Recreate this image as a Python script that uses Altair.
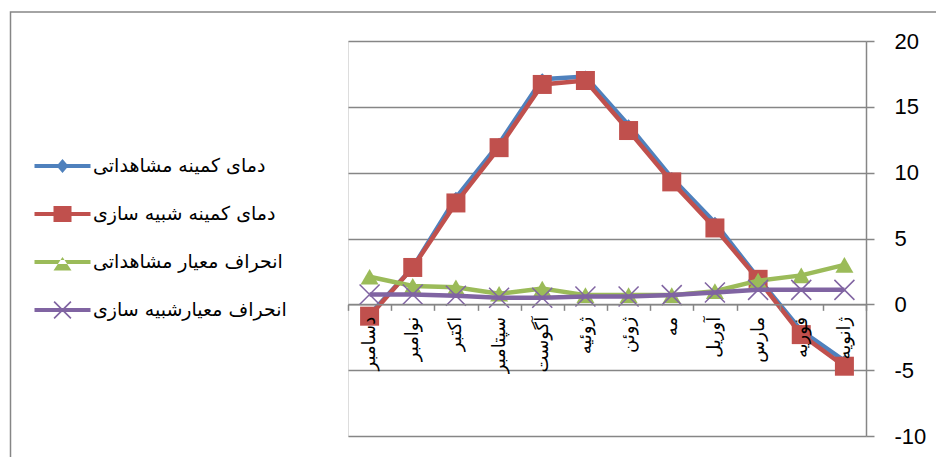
import altair as alt
import pandas as pd

# ---------------- data ----------------
months = ["دسامبر", "نوامبر", "اکتبر", "سپتامبر", "آگوست", "ژوئیه",
          "ژوئن", "مه", "آوریل", "مارس", "فوریه", "ژانویه"]
series_names = ["دمای کمینه  مشاهداتی", "دمای کمینه شبیه سازی",
                "انحراف معیار مشاهداتی", "انحراف معیارشبیه سازی"]
tmin_obs = [-0.8, 2.8, 8.1, 12.2, 17.1, 17.3, 13.6, 9.6, 6.2, 2.0, -2.0, -4.3]
tmin_sim = [-0.9, 2.8, 7.7, 11.9, 16.7, 17.0, 13.2, 9.3, 5.8, 1.9, -2.3, -4.7]
std_obs = [2.1, 1.4, 1.3, 0.8, 1.2, 0.7, 0.7, 0.7, 1.0, 1.8, 2.2, 3.0]
std_sim = [0.75, 0.75, 0.65, 0.5, 0.5, 0.6, 0.6, 0.7, 0.9, 1.1, 1.1, 1.1]
y_ticks = [-10, -5, 0, 5, 10, 15, 20]

# ---------------- styles ----------------
colors = ["#4F81BD", "#C0504D", "#9BBB59", "#8064A2"]
GRAY = "#868686"
W, H = 518, 395
Y_MIN, Y_MAX = -10, 20

X_PATH = "M-1,-1L1,1M-1,1L1,-1"
LINE = "M-1.4,-0.1H1.4V0.1H-1.4Z"
legend_paths = [
    LINE + " M0,-0.35L0.3,0L0,0.35L-0.3,0Z",
    LINE + " M-0.45,-0.4H0.45V0.4H-0.45Z",
    LINE + " M-0.45,0.42L0.45,0.42L0,-0.25Z",
    LINE + " M-0.39,-0.45L0.45,0.39L0.39,0.45L-0.45,-0.39Z"
           " M-0.45,0.39L0.39,-0.45L0.45,-0.39L-0.39,0.45Z",
]
marker_specs = [
    dict(shape="diamond", size=144, filled=True),
    dict(shape="square", size=361, filled=True),
    dict(shape="triangle-up", size=324, filled=True),
    dict(shape=X_PATH, size=400, filled=False, strokeWidth=1.5),
]

all_values = [tmin_obs, tmin_sim, std_obs, std_sim]
rows = []
for s, vals in zip(series_names, all_values):
    for m, v in zip(months, vals):
        rows.append({"month": m, "series": s, "value": v})
df = pd.DataFrame(rows)

color_scale = alt.Scale(domain=series_names, range=colors)

x_enc = alt.X(
    "month:N", sort=months,
    scale=alt.Scale(type="band", domain=months, paddingInner=0, paddingOuter=0),
    axis=alt.Axis(
        orient="bottom", offset=-H * (0 - Y_MIN) / (Y_MAX - Y_MIN),
        title=None, grid=False, domainColor=GRAY, domainWidth=1.5,
        tickColor=GRAY, tickWidth=1.5, tickSize=6, tickBand="extent",
        labelAngle=270, labelAlign="right", labelBaseline="middle",
        labelFont="DejaVu Sans", labelFontSize=18, labelColor="black",
        labelPadding=6, labelOverlap=False, labelLimit=200, zindex=1,
    ),
)
y_enc = alt.Y(
    "value:Q",
    scale=alt.Scale(domain=[Y_MIN, Y_MAX], nice=False, zero=False),
    axis=alt.Axis(
        orient="right", values=y_ticks, title=None,
        grid=True, gridColor=GRAY, gridWidth=1.5,
        domainColor=GRAY, domainWidth=1.5, tickColor=GRAY, tickWidth=1.5,
        tickSize=8, labelFont="Liberation Sans", labelFontSize=22,
        labelColor="black", labelPadding=20, labelAlign="left",
        labelExpr="'' + datum.value",
    ),
)

base = alt.Chart(df)

border = alt.Chart(alt.Data(values=[{}])).mark_rect(
    fillOpacity=0, stroke=GRAY, strokeWidth=1.5
).encode(
    x=alt.value(-337.5), x2=alt.value(700), y=alt.value(-29), y2=alt.value(600)
)

series_layers = []
for name, col, spec in zip(series_names, colors, marker_specs):
    sub = base.transform_filter(alt.datum.series == name)
    series_layers.append(
        sub.mark_line(strokeWidth=4.5, color=col).encode(x=x_enc, y=y_enc)
    )
    series_layers.append(
        sub.mark_point(opacity=1, color=col, **spec).encode(x=x_enc, y=y_enc)
    )

legend_layer = base.transform_filter("false").mark_point(
    filled=True, opacity=1
).encode(
    x=x_enc, y=y_enc,
    color=alt.Color(
        "series:N", scale=color_scale,
        legend=alt.Legend(
            orient="none", direction="vertical", legendX=-305.5, legendY=105,
            title=None, symbolSize=1600, symbolStrokeWidth=0, symbolOpacity=1,
            labelFont="DejaVu Sans", labelFontSize=19, labelColor="black",
            labelOffset=10.5, labelLimit=400, rowPadding=18, padding=0,
            labelAlign="left",
        ),
    ),
    shape=alt.Shape("series:N", scale=alt.Scale(domain=series_names, range=legend_paths)),
)

chart = alt.layer(border, *series_layers, legend_layer).properties(
    width=W, height=H,
    autosize="none",
    padding={"left": 340, "top": 33, "right": 70, "bottom": 21},
).configure_view(stroke=None).configure(background="white")

chart.save("out.html", embed_options={"renderer": "svg", "actions": False})
